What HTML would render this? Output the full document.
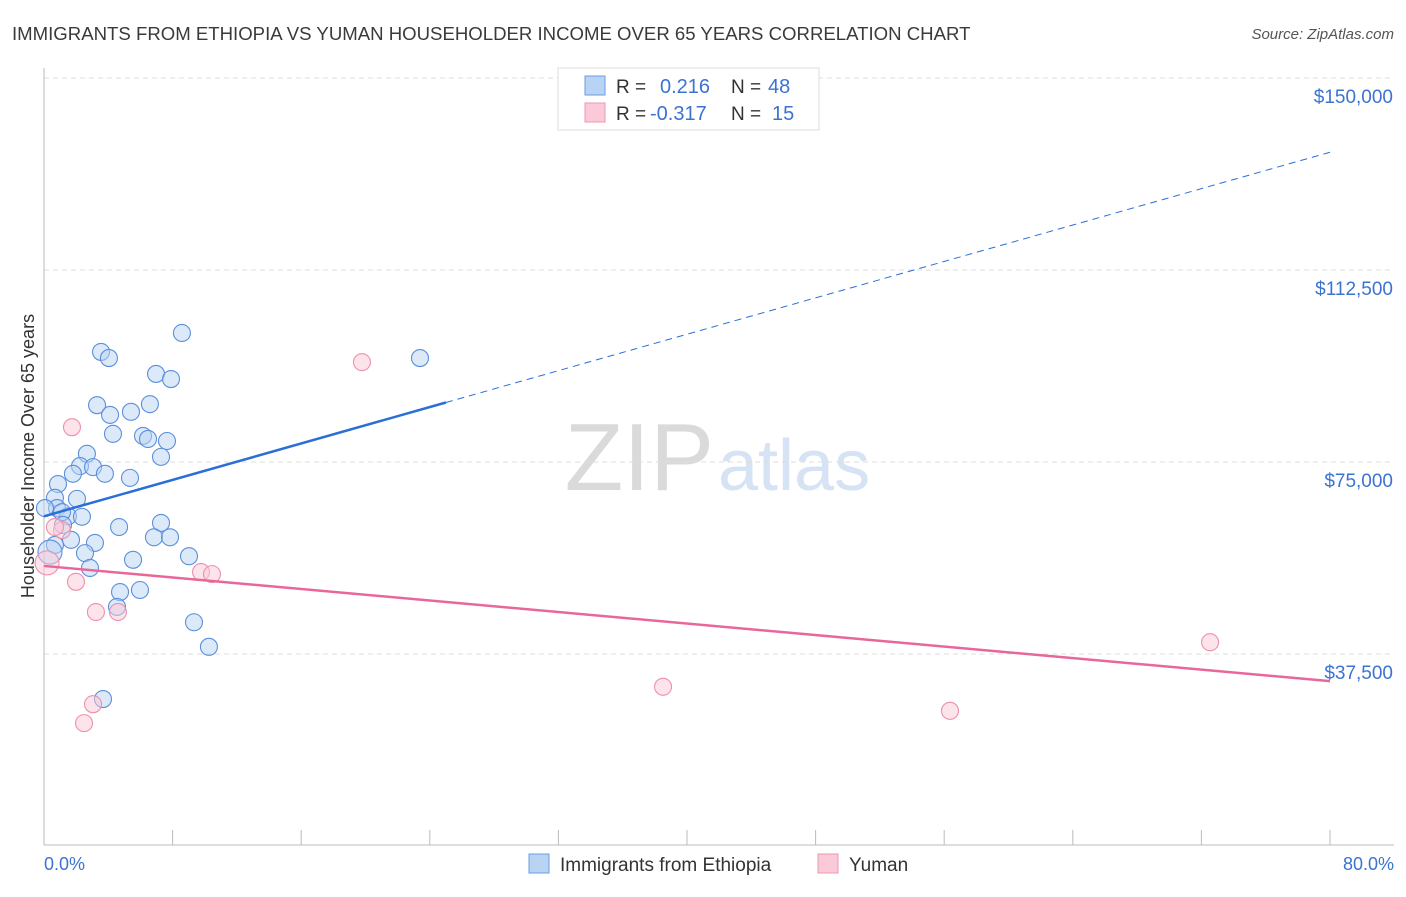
<!DOCTYPE html>
<html><head><meta charset="utf-8"><style>
body{margin:0;background:#fff;font-family:"Liberation Sans",sans-serif}
svg text{font-family:"Liberation Sans",sans-serif}
</style></head><body>
<svg id="chart" width="1406" height="892" xmlns="http://www.w3.org/2000/svg">
<text x="12" y="40" font-size="18.6" fill="#3a3a3a">IMMIGRANTS FROM ETHIOPIA VS YUMAN HOUSEHOLDER INCOME OVER 65 YEARS CORRELATION CHART</text>
<text x="1394" y="39" font-size="15" fill="#555" font-style="italic" text-anchor="end">Source: ZipAtlas.com</text>
<text x="714" y="490" font-size="96" fill="#dadada" text-anchor="end" font-family="Liberation Serif">ZIP</text>
<text x="718" y="490" font-size="72" fill="#d5e3f5">atlas</text>
<g id="grid"></g><g id="axes"></g><g id="marks"></g>
<text transform="translate(34,456) rotate(-90)" font-size="18" fill="#333" text-anchor="middle">Householder Income Over 65 years</text>
<text x="44" y="870" font-size="18" fill="#3b73d1">0.0%</text>
<text x="1394" y="870" font-size="18" fill="#3b73d1" text-anchor="end">80.0%</text>
<g>
<rect x="558" y="68" width="261" height="62" fill="#fff" stroke="#ddd"/>
<rect x="585" y="76" width="20" height="19" fill="#b9d3f4" stroke="#6b9de0"/>
<rect x="585" y="103" width="20" height="19" fill="#fbcad8" stroke="#ee96b1"/>
<text x="616" y="93" font-size="19" fill="#333">R =</text>
<text x="660" y="93" font-size="20" fill="#3b73d1">0.216</text>
<text x="731" y="93" font-size="19" fill="#333">N =</text>
<text x="768" y="93" font-size="20" fill="#3b73d1">48</text>
<text x="616" y="120" font-size="19" fill="#333">R =</text>
<text x="650" y="120" font-size="20" fill="#3b73d1">-0.317</text>
<text x="731" y="120" font-size="19" fill="#333">N =</text>
<text x="772" y="120" font-size="20" fill="#3b73d1">15</text>
</g>
<g>
<rect x="529" y="854" width="20" height="19" fill="#b9d3f4" stroke="#6b9de0"/>
<text x="560" y="871" font-size="19" fill="#333">Immigrants from Ethiopia</text>
<rect x="818" y="854" width="20" height="19" fill="#fbcad8" stroke="#ee96b1"/>
<text x="849" y="871" font-size="19" fill="#333">Yuman</text>
</g>
</svg>
<script>
const yTicks=[37500,75000,112500,150000];
const yTickLabels=["$37,500","$75,000","$112,500","$150,000"];
const blueX=[8.58,3.55,4.04,6.97,7.90,3.30,4.11,6.59,5.41,4.29,6.16,6.47,7.65,7.28,2.67,2.24,1.80,3.05,3.79,5.35,0.87,0.68,2.05,0.81,1.49,2.36,1.12,1.18,4.67,7.28,6.84,7.84,1.68,3.17,0.68,0.37,2.55,5.54,9.02,2.86,4.73,5.97,4.54,9.33,10.26,3.67,23.39,0.06];
const blueY=[100.2,96.5,95.3,92.2,91.2,86.1,84.2,86.3,84.8,80.5,80.1,79.5,79.1,76.0,76.6,74.2,72.7,74.0,72.7,71.9,70.7,68.0,67.8,66.0,64.4,64.3,65.2,62.7,62.3,63.1,60.3,60.3,59.8,59.2,58.8,57.4,57.2,55.9,56.6,54.3,49.6,50.0,46.7,43.7,38.9,28.7,95.3,66.0];
const pinkX=[1.74,19.78,1.12,0.68,0.19,1.99,3.23,4.60,9.77,10.45,3.05,2.49,38.51,56.36,72.54];
const pinkY=[81.8,94.5,61.7,62.3,55.3,51.6,45.7,45.7,53.5,53.1,27.7,24.0,31.1,26.4,39.8];
const blueTrend=[64.4,135.5]; const pinkTrend=[54.7,32.2];
const NS="http://www.w3.org/2000/svg";
const sx=p=>44+p*16.075, sy=v=>846-v*1000*192/37500;
function mk(t,a,p){const e=document.createElementNS(NS,t);for(const k in a)e.setAttribute(k,a[k]);p.appendChild(e);return e;}
const grid=document.getElementById('grid'),axes=document.getElementById('axes'),marks=document.getElementById('marks');
yTicks.forEach((v,i)=>{const y=sy(v/1000);
const l=mk('line',{x1:44,x2:1394,y1:y,y2:y,stroke:'#ddd','stroke-dasharray':'5,4'},grid);


const t=mk('text',{x:1393,y:y+25,'font-size':19,fill:'#3b73d1','text-anchor':'end'},grid);t.textContent=yTickLabels[i];

});
let a=mk('line',{x1:44,x2:44,y1:68,y2:845,stroke:'#bbb'},axes);


a=mk('line',{x1:44,x2:1394,y1:845,y2:845,stroke:'#bbb'},axes);


for(let i=1;i<=10;i++){const x=sx(i*8);const t=mk('line',{x1:x,x2:x,y1:830,y2:845,stroke:'#bbb'},axes);

}
function dots(X,Y,fill,stroke,name){X.forEach((x,i)=>{const c=mk('circle',{cx:sx(x),cy:sy(Y[i]),r:(x<0.4&&x>0.1?12:8.5),fill:fill,'fill-opacity':0.5,stroke:stroke,'stroke-width':1.1},marks);

});}
dots(blueX,blueY,'#b9d3f4','#5b8fdc','ethiopia-point');
dots(pinkX,pinkY,'#fbcad8','#ee8fae','yuman-point');
const bAt=p=>blueTrend[0]+(blueTrend[1]-blueTrend[0])*p/80;
let tl=mk('line',{x1:sx(0),y1:sy(bAt(0)),x2:sx(25),y2:sy(bAt(25)),stroke:'#2a6fd6','stroke-width':2.5},marks);


tl=mk('line',{x1:sx(25),y1:sy(bAt(25)),x2:sx(80),y2:sy(bAt(80)),stroke:'#2a6fd6','stroke-width':1,'stroke-dasharray':'7,5'},marks);


tl=mk('line',{x1:sx(0),y1:sy(pinkTrend[0]),x2:sx(80),y2:sy(pinkTrend[1]),stroke:'#e8679a','stroke-width':2.5},marks);


</script>
</body></html>
